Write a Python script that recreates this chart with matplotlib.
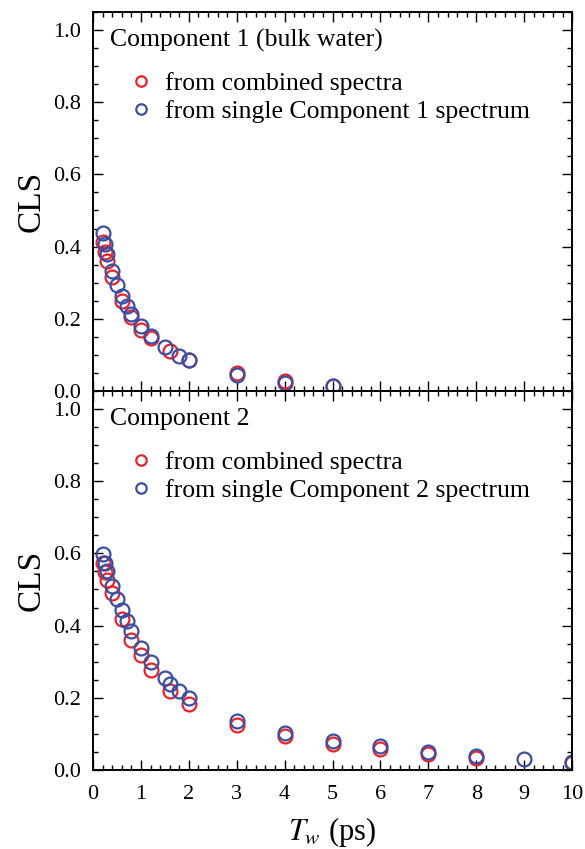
import matplotlib
matplotlib.use("Agg")
import matplotlib.pyplot as plt
import numpy as np
from matplotlib.ticker import MultipleLocator, FormatStrFormatter

plt.rcParams['font.family'] = ['Liberation Serif', 'DejaVu Serif']
plt.rcParams['mathtext.fontset'] = 'stix'

# Component 1 (bulk water)
c1_comb_tw = [0.2, 0.25, 0.3, 0.4, 0.6, 0.8, 1.0, 1.2, 1.6, 2.0, 3, 4, 5]
c1_comb_cls = [0.412, 0.385, 0.360, 0.316, 0.249, 0.205, 0.169, 0.146, 0.111, 0.085, 0.050, 0.028, 0.015]
c1_single_tw = [0.2, 0.25, 0.3, 0.4, 0.5, 0.6, 0.7, 0.8, 1.0, 1.2, 1.5, 1.8, 2.0, 3, 4, 5]
c1_single_cls = [0.438, 0.408, 0.380, 0.331, 0.293, 0.262, 0.236, 0.213, 0.179, 0.153, 0.121, 0.098, 0.086, 0.045, 0.021, 0.014]

# Component 2
c2_comb_tw = [0.2, 0.25, 0.3, 0.4, 0.6, 0.8, 1.0, 1.2, 1.6, 2.0, 3, 4, 5, 6, 7, 8, 10]
c2_comb_cls = [0.572, 0.549, 0.526, 0.489, 0.417, 0.361, 0.318, 0.278, 0.220, 0.182, 0.125, 0.094, 0.071, 0.058, 0.044, 0.032, 0.020]
c2_single_tw = [0.2, 0.25, 0.3, 0.4, 0.5, 0.6, 0.7, 0.8, 1.0, 1.2, 1.5, 1.6, 1.8, 2.0, 3, 4, 5, 6, 7, 8, 9, 10]
c2_single_cls = [0.597, 0.574, 0.551, 0.511, 0.475, 0.442, 0.412, 0.384, 0.338, 0.299, 0.255, 0.239, 0.218, 0.199, 0.136, 0.102, 0.080, 0.065, 0.051, 0.040, 0.030, 0.023]

red = '#e8232b'
blue = '#3a4fa3'

fig = plt.figure(figsize=(5.85, 8.49), dpi=100)
ax1 = fig.add_axes([0.159, 0.5395, 0.819, 0.4465])
ax2 = fig.add_axes([0.159, 0.0931, 0.819, 0.4464])

panels = [
    (ax1, c1_comb_tw, c1_comb_cls, c1_single_tw, c1_single_cls, 'Component 1 (bulk water)', 'Component 1'),
    (ax2, c2_comb_tw, c2_comb_cls, c2_single_tw, c2_single_cls, 'Component 2', 'Component 2'),
]

for ax, xr, yr, xb, yb, title, name in panels:
    ax.plot(xr, yr, linestyle='none', marker='o', markersize=10, markerfacecolor='none',
            markeredgecolor=red, markeredgewidth=1.6, label='from combined spectra')
    ax.plot(xb, yb, linestyle='none', marker='o', markersize=10, markerfacecolor='none',
            markeredgecolor=blue, markeredgewidth=1.6, label=f'from single {name} spectrum')
    ax.set_xlim(0, 10)
    ax.set_ylim(0, 1.05)
    ax.xaxis.set_major_locator(MultipleLocator(1))
    ax.xaxis.set_minor_locator(MultipleLocator(0.2))
    ax.yaxis.set_major_locator(MultipleLocator(0.2))
    ax.yaxis.set_minor_locator(MultipleLocator(0.05))
    ax.tick_params(which='both', direction='in', top=True, right=True, labelsize=16, width=1.0)
    ax.tick_params(axis='y', pad=9)
    ax.tick_params(axis='x', pad=11)
    ax.tick_params(which='major', length=7)
    ax.tick_params(which='minor', length=3.5)
    for s in ax.spines.values():
        s.set_linewidth(1.4)
    ax.yaxis.set_major_formatter(FormatStrFormatter('%.1f'))
    ax.set_ylabel('CLS', fontsize=24, labelpad=4)
    ax.text(0.035, 0.925, title, transform=ax.transAxes, fontsize=18.5, va='center', ha='left')
    ax.legend(loc='upper left', bbox_to_anchor=(0.075, 0.842), frameon=False, fontsize=18.5,
              markerscale=0.75, handlelength=0.9, handletextpad=0.5, labelspacing=0.22,
              borderaxespad=0, borderpad=0)

ax1.tick_params(labelbottom=False)
ax2.set_xlabel('$T_w$ (ps)', fontsize=22, labelpad=8)

fig.savefig('out.png', dpi=100)
